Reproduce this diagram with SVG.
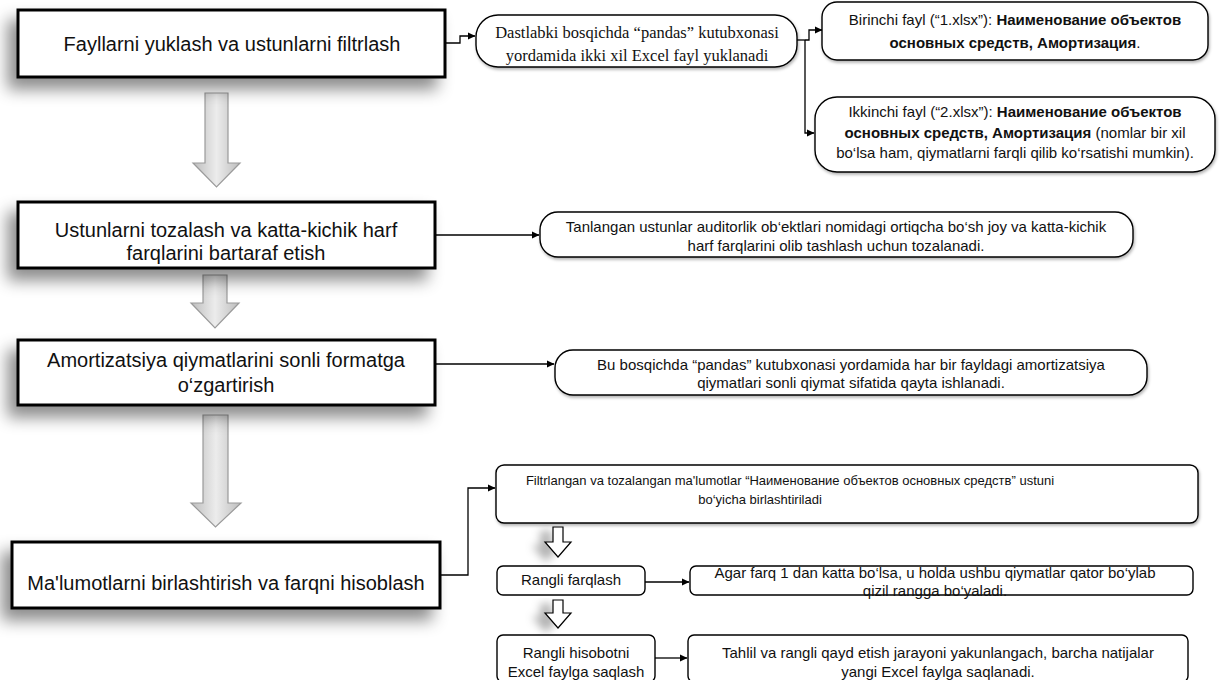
<svg xmlns="http://www.w3.org/2000/svg" width="1226" height="680" viewBox="0 0 1226 680">
<defs>
<style>
.main{fill:#fff;stroke:#000;stroke-width:3}
.pill{fill:#fff;stroke:#000;stroke-width:1.4}
.t{font-family:"Liberation Sans",Arial,sans-serif;fill:#111;text-anchor:middle}
.big{font-size:20px}
.sm{font-size:15px}
.ser{font-family:"Liberation Serif","Times New Roman",serif;font-size:16.5px;fill:#111;text-anchor:middle}
.b{font-weight:bold}
.con{fill:none;stroke:#000;stroke-width:1.3}
.garr{fill:url(#gg);stroke:#9a9a9a;stroke-width:1.2}
.oarr{fill:#fff;stroke:#000;stroke-width:1.2}
</style>
<linearGradient id="gg" x1="0" y1="0" x2="1" y2="0">
<stop offset="0" stop-color="#bdbdbd"/>
<stop offset="0.5" stop-color="#ececec"/>
<stop offset="1" stop-color="#bdbdbd"/>
</linearGradient>
<filter id="sh" x="-15%" y="-40%" width="130%" height="190%">
<feGaussianBlur in="SourceAlpha" stdDeviation="8"/>
<feOffset dx="-9" dy="11" result="o"/>
<feFlood flood-color="#000" flood-opacity="0.45"/>
<feComposite in2="o" operator="in"/>
<feMerge><feMergeNode/><feMergeNode in="SourceGraphic"/></feMerge>
</filter>
<filter id="sh2" x="-5%" y="-20%" width="110%" height="150%">
<feGaussianBlur in="SourceAlpha" stdDeviation="1.5"/>
<feOffset dx="1" dy="2" result="o"/>
<feFlood flood-color="#000" flood-opacity="0.3"/>
<feComposite in2="o" operator="in"/>
<feMerge><feMergeNode/><feMergeNode in="SourceGraphic"/></feMerge>
</filter>
<filter id="sh3" x="-100%" y="-20%" width="250%" height="150%">
<feGaussianBlur in="SourceAlpha" stdDeviation="4"/>
<feOffset dx="-12" dy="4" result="o"/>
<feFlood flood-color="#000" flood-opacity="0.3"/>
<feComposite in2="o" operator="in"/>
<feMerge><feMergeNode/><feMergeNode in="SourceGraphic"/></feMerge>
</filter>
<marker id="ah" markerWidth="8" markerHeight="8" refX="7" refY="4" orient="auto" markerUnits="userSpaceOnUse">
<path d="M0,0.5 L7.5,4 L0,7.5 Z" fill="#000"/>
</marker>
</defs>
<rect width="1226" height="680" fill="#fff"/>

<g id="connectors">
<polyline class="con" points="445,43 460,43 460,36 475,36" marker-end="url(#ah)"/>
<polyline class="con" points="797,40 805,40"/>
<polyline class="con" points="805,40 809,40 809,30 822,30" marker-end="url(#ah)"/>
<polyline class="con" points="805,40 805,133 814,133" marker-end="url(#ah)"/>
<polyline class="con" points="435,235 539,235" marker-end="url(#ah)"/>
<polyline class="con" points="435,364 554,364" marker-end="url(#ah)"/>
<polyline class="con" points="440,575 468,575 468,488 495,488" marker-end="url(#ah)"/>
<polyline class="con" points="645,582 689,582" marker-end="url(#ah)"/>
<polyline class="con" points="655,658 687,658" marker-end="url(#ah)"/>
</g>

<g id="arrows">
<path class="garr" d="M205,93 H228 V163 H240 L216.5,187 L193,163 H205 Z"/>
<path class="garr" d="M203,275 H227 V303 H239 L215,328 L191,303 H203 Z"/>
<path class="garr" d="M203,415 H228 V503 H241 L215.5,527 L191,503 H203 Z"/>
<path class="oarr" d="M553,527 H563 V542 H571 L558,557 L545,542 H553 Z" filter="url(#sh3)"/>
<path class="oarr" d="M553,600 H563 V613 H571 L558,628 L545,613 H553 Z" filter="url(#sh3)"/>
</g>

<g id="step1">
<rect class="main" x="18" y="10" width="427" height="67" filter="url(#sh)"/>
<text class="t big" x="232" y="51">Fayllarni yuklash va ustunlarni filtrlash</text>
</g>

<g id="load">
<rect class="pill" x="476" y="15" width="321" height="52" rx="22" filter="url(#sh2)"/>
<text class="ser" x="637" y="38">Dastlabki bosqichda “pandas” kutubxonasi</text>
<text class="ser" x="637" y="61">yordamida ikki xil Excel fayl yuklanadi</text>
</g>

<g id="file1">
<rect class="pill" x="822" y="2" width="386" height="58" rx="15" filter="url(#sh2)"/>
<text class="t sm" x="1015" y="24.5">Birinchi fayl (“1.xlsx”): <tspan class="b">Наименование объектов</tspan></text>
<text class="t sm" x="1015" y="47.5"><tspan class="b">основных средств, Амортизация</tspan>.</text>
</g>

<g id="file2">
<rect class="pill" x="815" y="97" width="400" height="75" rx="22" filter="url(#sh2)"/>
<text class="t sm" x="1015" y="117">Ikkinchi fayl (“2.xlsx”): <tspan class="b">Наименование объектов</tspan></text>
<text class="t sm" x="1015" y="138"><tspan class="b">основных средств, Амортизация</tspan> (nomlar bir xil</text>
<text class="t sm" x="1015" y="158">bo‘lsa ham, qiymatlarni farqli qilib ko‘rsatishi mumkin).</text>
</g>

<g id="step2">
<rect class="main" x="18" y="202" width="417" height="66" filter="url(#sh)"/>
<text class="t big" x="226" y="237">Ustunlarni tozalash va katta-kichik harf</text>
<text class="t big" x="226" y="260">farqlarini bartaraf etish</text>
</g>

<g id="clean">
<rect class="pill" x="540" y="212" width="593" height="45" rx="18" filter="url(#sh2)"/>
<text class="t sm" x="836" y="232">Tanlangan ustunlar auditorlik ob‘ektlari nomidagi ortiqcha bo‘sh joy va katta-kichik</text>
<text class="t sm" x="836" y="251">harf farqlarini olib tashlash uchun tozalanadi.</text>
</g>

<g id="step3">
<rect class="main" x="18" y="340" width="417" height="65" filter="url(#sh)"/>
<text class="t big" x="226" y="367">Amortizatsiya qiymatlarini sonli formatga</text>
<text class="t big" x="226" y="392">o‘zgartirish</text>
</g>

<g id="convert">
<rect class="pill" x="555" y="350" width="592" height="45" rx="18" filter="url(#sh2)"/>
<text class="t sm" x="851" y="370">Bu bosqichda “pandas” kutubxonasi yordamida har bir fayldagi amortizatsiya</text>
<text class="t sm" x="851" y="388">qiymatlari sonli qiymat sifatida qayta ishlanadi.</text>
</g>

<g id="step4">
<rect class="main" x="12" y="542" width="428" height="66" filter="url(#sh)"/>
<text class="t big" x="226" y="590">Ma'lumotlarni birlashtirish va farqni hisoblash</text>
</g>

<g id="merge">
<rect class="pill" x="496" y="465" width="702" height="58" rx="8" filter="url(#sh2)"/>
<text class="t" style="font-size:13px" x="790" y="485">Filtrlangan va tozalangan ma'lumotlar “Наименование объектов основных средств” ustuni</text>
<text class="t" style="font-size:13px" x="760" y="504">bo‘yicha birlashtiriladi</text>
</g>

<g id="color">
<rect class="pill" x="497" y="566" width="148" height="29" rx="6"/>
<text class="t sm" x="571" y="585">Rangli farqlash</text>
</g>

<g id="colordesc">
<rect class="pill" x="690" y="566" width="503" height="29" rx="6"/>
<text class="t sm" x="935" y="578">Agar farq 1 dan katta bo‘lsa, u holda ushbu qiymatlar qator bo‘ylab</text>
<text class="t sm" x="935" y="596">qizil rangga bo‘yaladi.</text>
</g>

<g id="save">
<rect class="pill" x="497" y="635" width="158" height="47" rx="6"/>
<text class="t sm" x="576" y="658">Rangli hisobotni</text>
<text class="t sm" x="576" y="677">Excel faylga saqlash</text>
</g>

<g id="savedesc">
<rect class="pill" x="688" y="635" width="500" height="47" rx="6"/>
<text class="t sm" x="938" y="658">Tahlil va rangli qayd etish jarayoni yakunlangach, barcha natijalar</text>
<text class="t sm" x="938" y="677">yangi Excel faylga saqlanadi.</text>
</g>
</svg>
